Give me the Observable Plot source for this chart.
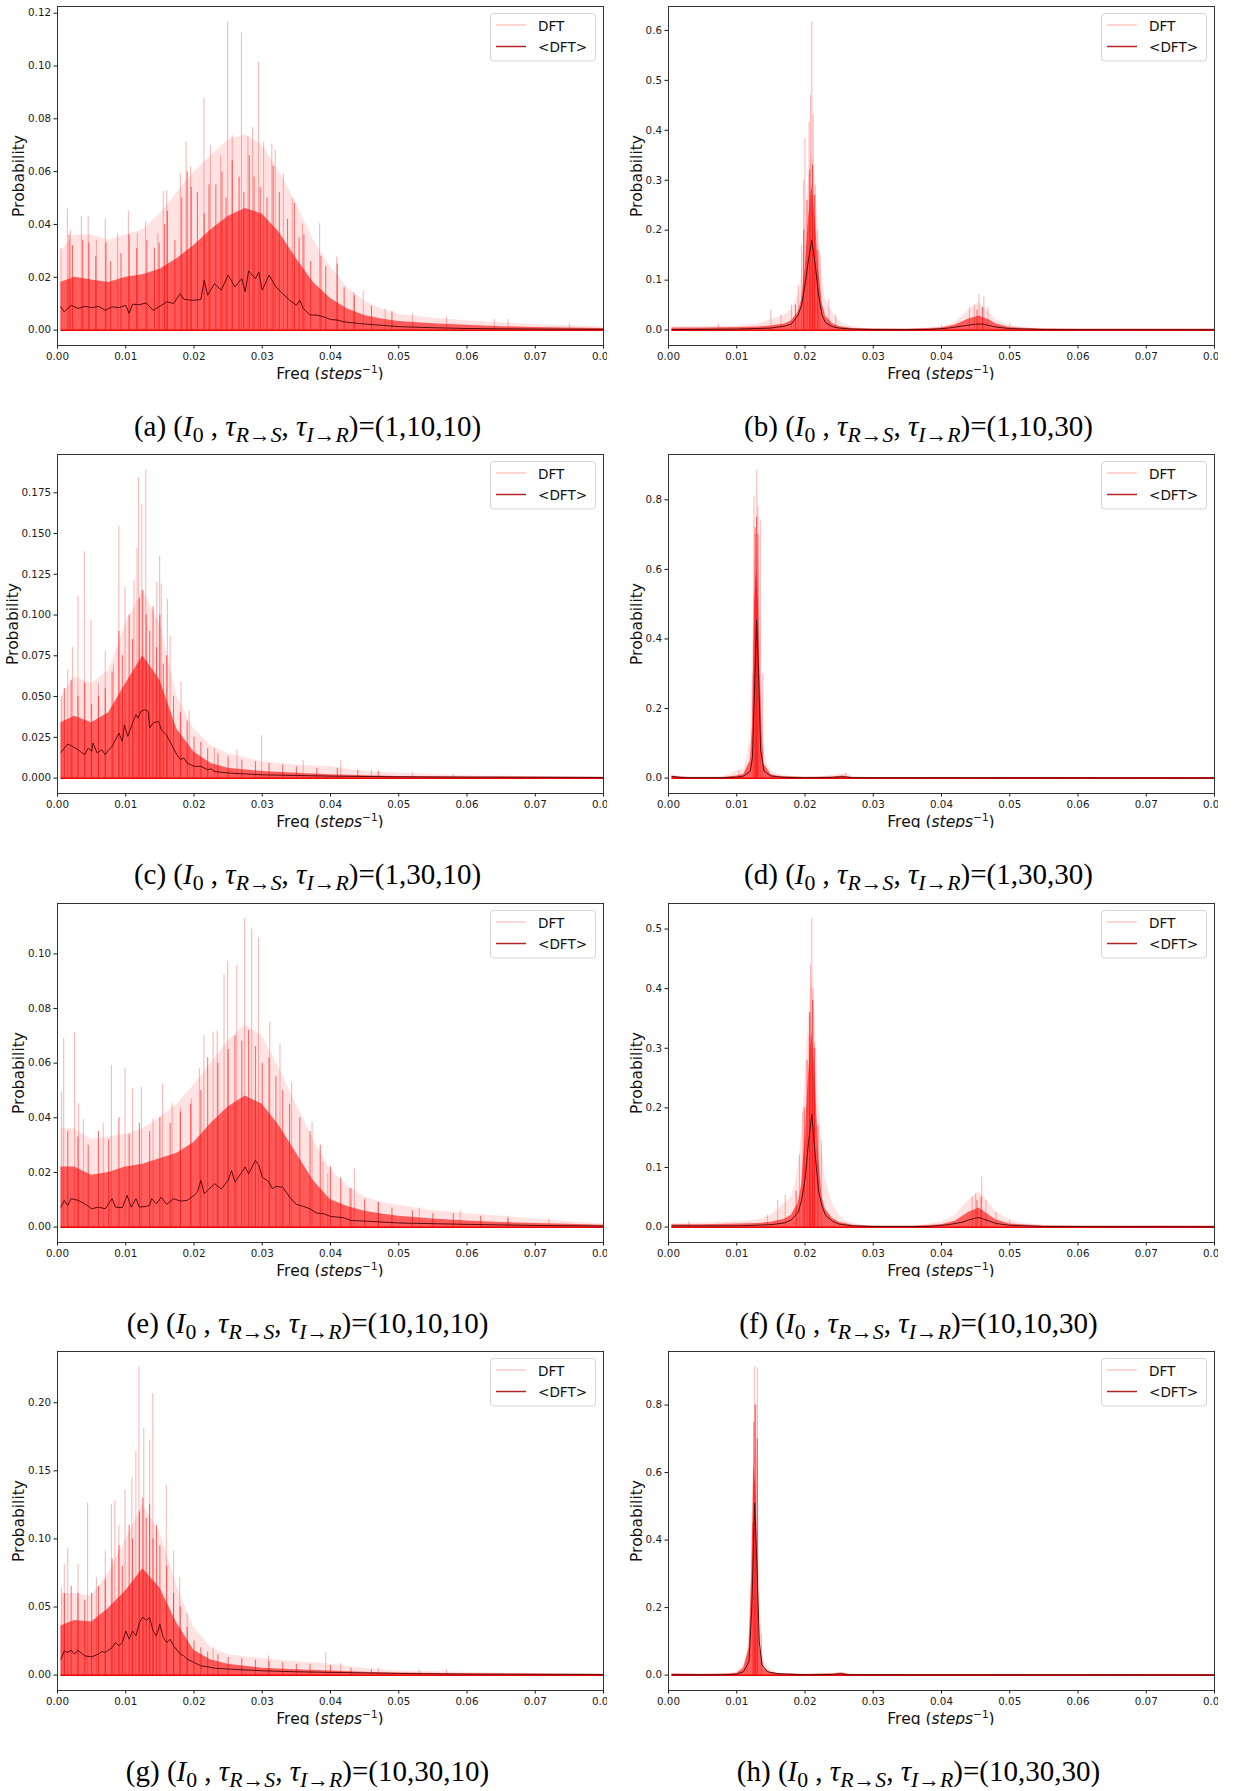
<!DOCTYPE html>
<html><head><meta charset="utf-8">
<script src="https://cdn.jsdelivr.net/npm/d3@7"></script>
<script src="https://cdn.jsdelivr.net/npm/@observablehq/plot@0.6"></script>
<style>
body{margin:0;background:#fff;}
#page{position:relative;width:1243px;height:1791px;overflow:hidden;background:#fff;}
.cell{position:absolute;width:607px;height:380px;overflow:hidden;}
.cap{position:absolute;width:607px;height:36px;line-height:36px;text-align:center;font-family:"Liberation Serif","Times New Roman",serif;font-size:29px;color:#000;white-space:nowrap;}
.cap sub{font-size:0.75em;vertical-align:-0.27em;line-height:0;}
</style></head><body><div id="page"></div>
<script>
// ---------- tick values ----------
const xTicks = [0, 0.01, 0.02, 0.03, 0.04, 0.05, 0.06, 0.07, 0.08];
const aYTicks = [0, 0.02, 0.04, 0.06, 0.08, 0.10, 0.12];
const bYTicks = [0, 0.1, 0.2, 0.3, 0.4, 0.5, 0.6];
const cYTicks = [0, 0.025, 0.05, 0.075, 0.1, 0.125, 0.15, 0.175];
const dYTicks = [0, 0.2, 0.4, 0.6, 0.8];
const eYTicks = [0, 0.02, 0.04, 0.06, 0.08, 0.10];
const fYTicks = [0, 0.1, 0.2, 0.3, 0.4, 0.5];
const gYTicks = [0, 0.05, 0.10, 0.15, 0.20];
const hYTicks = [0, 0.2, 0.4, 0.6, 0.8];

// ---------- captions / legend ----------
const capLetters = ["a", "b", "c", "d", "e", "f", "g", "h"];
const capValues = ["1,10,10", "1,10,30", "1,30,10", "1,30,30", "10,10,10", "10,10,30", "10,30,10", "10,30,30"];
const legendLabels = ["DFT", "<DFT>"];

// ---------- panel (a) ----------
const aHaze = [[0.0005,0.030],[0.0025,0.036],[0.005,0.036],[0.0075,0.034],[0.01,0.036],[0.0125,0.038],[0.015,0.044],[0.0175,0.052],[0.02,0.060],[0.0225,0.066],[0.025,0.072],[0.0275,0.074],[0.03,0.070],[0.0325,0.060],[0.035,0.048],[0.0375,0.034],[0.04,0.024],[0.0425,0.016],[0.045,0.011],[0.0475,0.008],[0.05,0.006],[0.055,0.0045],[0.06,0.0035],[0.065,0.0028],[0.07,0.002],[0.075,0.0016],[0.08,0.0012]];
const aCore = [[0.0005,0.018],[0.0025,0.020],[0.005,0.019],[0.0075,0.018],[0.01,0.020],[0.0125,0.021],[0.015,0.023],[0.0175,0.027],[0.02,0.032],[0.0225,0.038],[0.025,0.043],[0.0275,0.046],[0.03,0.044],[0.0325,0.037],[0.035,0.027],[0.0375,0.018],[0.04,0.012],[0.0425,0.008],[0.045,0.0055],[0.0475,0.0042],[0.05,0.0033],[0.055,0.0024],[0.06,0.0018],[0.065,0.0013],[0.07,0.001],[0.075,0.0008],[0.08,0.0006]];
const aMean = [[0.0005,0.0088],[0.001,0.0069],[0.002,0.0094],[0.003,0.0082],[0.004,0.0090],[0.005,0.0085],[0.006,0.0090],[0.007,0.0075],[0.008,0.0088],[0.009,0.0085],[0.010,0.0094],[0.0105,0.0063],[0.011,0.0098],[0.012,0.0096],[0.013,0.0103],[0.014,0.0075],[0.015,0.0090],[0.016,0.0107],[0.017,0.0101],[0.018,0.0138],[0.0185,0.0117],[0.019,0.0115],[0.020,0.0113],[0.021,0.0116],[0.0215,0.0189],[0.022,0.0132],[0.023,0.0176],[0.024,0.0151],[0.025,0.0208],[0.026,0.0164],[0.027,0.0195],[0.0275,0.0145],[0.028,0.0224],[0.029,0.0195],[0.0295,0.0220],[0.030,0.0151],[0.031,0.0208],[0.032,0.0164],[0.033,0.0138],[0.034,0.0113],[0.035,0.0094],[0.0355,0.0113],[0.036,0.0082],[0.037,0.0057],[0.038,0.0057],[0.039,0.0050],[0.040,0.0040],[0.041,0.0038],[0.042,0.0031],[0.043,0.0028],[0.045,0.0023],[0.047,0.0019],[0.050,0.0013],[0.055,0.0009],[0.060,0.0006],[0.070,0.0004],[0.080,0.0003]];
const aSpikes = [[0.0005,0.0308],[0.00145,0.0459],[0.0019,0.0377],[0.0035,0.0431],[0.0045,0.0428],[0.0057,0.034],[0.007,0.0421],[0.0088,0.0365],[0.0104,0.0449],[0.0117,0.0365],[0.0129,0.0411],[0.0147,0.0365],[0.0155,0.0525],[0.016,0.0528],[0.018,0.059],[0.01884,0.0711],[0.0195,0.0619],[0.02145,0.0877],[0.0224,0.0698],[0.0239,0.066],[0.02493,0.1167],[0.0256,0.0736],[0.02696,0.1126],[0.0279,0.0732],[0.02858,0.0767],[0.02945,0.1013],[0.0302,0.071],[0.0314,0.0705],[0.0319,0.068],[0.0331,0.059],[0.0344,0.0497],[0.0359,0.0403],[0.0384,0.0403],[0.0409,0.0277],[0.0434,0.0141],[0.0448,0.0147],[0.048,0.008],[0.052,0.006],[0.057,0.005],[0.064,0.004],[0.066,0.004],[0.075,0.0025]];
const aMid = [[0.0017,0.036],[0.0022,0.032],[0.0037,0.034],[0.0046,0.033],[0.0056,0.028],[0.0071,0.033],[0.0078,0.026],[0.0093,0.029],[0.0105,0.036],[0.0116,0.031],[0.0131,0.034],[0.0142,0.031],[0.0149,0.033],[0.0157,0.040],[0.0161,0.045],[0.0172,0.034],[0.0182,0.050],[0.019,0.060],[0.0196,0.054],[0.0205,0.052],[0.0215,0.044],[0.0222,0.055],[0.0232,0.055],[0.0241,0.060],[0.0247,0.050],[0.0256,0.064],[0.0266,0.058],[0.0273,0.052],[0.0281,0.066],[0.0288,0.058],[0.0297,0.054],[0.0307,0.050],[0.0316,0.062],[0.0325,0.052],[0.0337,0.042],[0.0347,0.048],[0.0354,0.035],[0.0361,0.036],[0.0371,0.026],[0.0386,0.028],[0.0393,0.024],[0.041,0.025],[0.042,0.016],[0.0435,0.013],[0.046,0.009],[0.049,0.007]];

// ---------- panel (b) ----------
const bHaze = [[0.0005,0.006],[0.005,0.007],[0.01,0.008],[0.013,0.012],[0.015,0.02],[0.017,0.03],[0.018,0.04],[0.019,0.07],[0.0195,0.11],[0.02,0.2],[0.0205,0.3],[0.021,0.36],[0.0215,0.3],[0.022,0.2],[0.0225,0.11],[0.023,0.06],[0.024,0.035],[0.025,0.018],[0.026,0.01],[0.028,0.004],[0.03,0.002],[0.035,0.002],[0.04,0.006],[0.042,0.015],[0.044,0.04],[0.0455,0.055],[0.047,0.035],[0.048,0.02],[0.05,0.01],[0.052,0.005],[0.055,0.003],[0.06,0.002],[0.07,0.002],[0.08,0.002]];
const bCore = [[0.0005,0.004],[0.005,0.004],[0.01,0.005],[0.013,0.006],[0.015,0.008],[0.017,0.012],[0.018,0.018],[0.019,0.035],[0.0195,0.06],[0.02,0.12],[0.0205,0.22],[0.021,0.29],[0.0215,0.22],[0.022,0.12],[0.0225,0.055],[0.023,0.028],[0.024,0.013],[0.025,0.007],[0.027,0.003],[0.03,0.002],[0.035,0.0015],[0.04,0.004],[0.042,0.01],[0.044,0.022],[0.0455,0.028],[0.047,0.02],[0.048,0.012],[0.05,0.005],[0.055,0.002],[0.06,0.0015],[0.08,0.0015]];
const bMean = [[0.0005,0.001],[0.01,0.002],[0.015,0.004],[0.017,0.008],[0.018,0.012],[0.019,0.03],[0.0195,0.05],[0.020,0.09],[0.0205,0.14],[0.021,0.18],[0.0215,0.13],[0.022,0.07],[0.0225,0.03],[0.023,0.015],[0.024,0.007],[0.025,0.004],[0.027,0.002],[0.030,0.001],[0.038,0.001],[0.041,0.004],[0.043,0.008],[0.045,0.012],[0.046,0.012],[0.047,0.009],[0.048,0.006],[0.050,0.003],[0.055,0.001],[0.080,0.0005]];
const bSpikes = [[0.021,0.617],[0.0208,0.47],[0.0212,0.43],[0.0206,0.416],[0.02,0.383],[0.0198,0.3],[0.0215,0.29],[0.0218,0.2],[0.0222,0.15],[0.0195,0.17],[0.019,0.09],[0.015,0.04],[0.0073,0.012],[0.0235,0.06],[0.0245,0.03],[0.0455,0.071],[0.0462,0.066],[0.0448,0.05],[0.0441,0.045],[0.0468,0.045],[0.05,0.014],[0.04,0.01],[0.0165,0.03],[0.018,0.05]];
const bMid = [[0.0198,0.2],[0.0203,0.26],[0.0207,0.32],[0.0211,0.33],[0.0214,0.27],[0.0219,0.16],[0.0186,0.05],[0.0452,0.04],[0.046,0.045]];

// ---------- panel (c) ----------
const cHaze = [[0.0005,0.05],[0.0025,0.062],[0.005,0.058],[0.0075,0.066],[0.01,0.095],[0.0125,0.115],[0.015,0.095],[0.0175,0.05],[0.02,0.03],[0.0225,0.02],[0.025,0.015],[0.03,0.01],[0.035,0.008],[0.04,0.007],[0.045,0.004],[0.05,0.003],[0.06,0.0015],[0.07,0.001],[0.08,0.0006]];
const cCore = [[0.0005,0.034],[0.0025,0.038],[0.005,0.034],[0.0075,0.040],[0.01,0.058],[0.0125,0.075],[0.015,0.060],[0.0175,0.030],[0.02,0.016],[0.0225,0.009],[0.025,0.006],[0.03,0.004],[0.035,0.003],[0.04,0.002],[0.045,0.0015],[0.05,0.001],[0.06,0.0007],[0.08,0.0004]];
const cMean = [[0.0005,0.0158],[0.0015,0.0209],[0.002,0.0199],[0.003,0.0174],[0.004,0.0143],[0.0045,0.0184],[0.005,0.0164],[0.0052,0.0215],[0.0058,0.0154],[0.0065,0.0174],[0.007,0.0143],[0.0075,0.0174],[0.008,0.0194],[0.009,0.0276],[0.0095,0.0225],[0.0098,0.0327],[0.0103,0.0256],[0.011,0.0338],[0.0115,0.0389],[0.0118,0.0368],[0.0122,0.0409],[0.0128,0.042],[0.0133,0.0409],[0.0135,0.0307],[0.014,0.0338],[0.0148,0.0348],[0.0152,0.0297],[0.016,0.0262],[0.0165,0.0221],[0.0175,0.0143],[0.018,0.0113],[0.0185,0.0123],[0.019,0.0092],[0.020,0.0072],[0.021,0.0072],[0.022,0.0051],[0.0225,0.0057],[0.023,0.0041],[0.025,0.0031],[0.030,0.0020],[0.035,0.0016],[0.040,0.0012],[0.050,0.0008],[0.060,0.0006],[0.080,0.0004]];
const cSpikes = [[0.0006,0.050],[0.0015,0.0665],[0.0022,0.080],[0.003,0.1115],[0.00394,0.139],[0.0049,0.097],[0.006,0.058],[0.007,0.0778],[0.0082,0.0696],[0.00899,0.1545],[0.0099,0.117],[0.0112,0.121],[0.01165,0.141],[0.01188,0.184],[0.01235,0.168],[0.01293,0.189],[0.01455,0.12],[0.01496,0.136],[0.0152,0.119],[0.0161,0.1095],[0.0165,0.087],[0.0181,0.059],[0.0193,0.041],[0.023,0.018],[0.0263,0.0174],[0.0299,0.026],[0.036,0.0106],[0.0415,0.0106],[0.046,0.005],[0.052,0.003],[0.058,0.002]];
const cMid = [[0.001,0.055],[0.002,0.06],[0.003,0.05],[0.004,0.058],[0.005,0.045],[0.006,0.05],[0.007,0.055],[0.008,0.065],[0.009,0.09],[0.0095,0.075],[0.0105,0.1],[0.011,0.085],[0.012,0.11],[0.0125,0.115],[0.013,0.1],[0.0135,0.09],[0.014,0.105],[0.0145,0.08],[0.015,0.1],[0.0155,0.07],[0.016,0.075],[0.017,0.05],[0.018,0.04],[0.019,0.035],[0.02,0.025],[0.021,0.022],[0.022,0.018],[0.0235,0.015],[0.025,0.013],[0.027,0.011],[0.029,0.01],[0.031,0.009],[0.033,0.008],[0.035,0.007],[0.038,0.006],[0.041,0.006],[0.044,0.005],[0.047,0.004]];

// ---------- panel (d) ----------
const dHaze = [[0.0005,0.008],[0.003,0.003],[0.008,0.004],[0.01,0.02],[0.011,0.025],[0.0115,0.06],[0.012,0.12],[0.0123,0.35],[0.0126,0.62],[0.0129,0.66],[0.0133,0.6],[0.0136,0.4],[0.0138,0.2],[0.014,0.08],[0.0145,0.04],[0.015,0.02],[0.016,0.01],[0.018,0.005],[0.022,0.003],[0.025,0.01],[0.026,0.014],[0.027,0.004],[0.03,0.002],[0.08,0.002]];
const dCore = [[0.0005,0.005],[0.003,0.002],[0.008,0.002],[0.01,0.006],[0.011,0.01],[0.012,0.05],[0.0123,0.15],[0.0126,0.5],[0.0129,0.6],[0.0132,0.5],[0.0135,0.25],[0.0138,0.1],[0.014,0.04],[0.015,0.01],[0.016,0.005],[0.02,0.002],[0.024,0.003],[0.0255,0.006],[0.027,0.002],[0.03,0.0015],[0.08,0.0015]];
const dMean = [[0.0005,0.005],[0.002,0.001],[0.008,0.001],[0.01,0.003],[0.011,0.006],[0.012,0.02],[0.0123,0.06],[0.0126,0.25],[0.0129,0.455],[0.0132,0.3],[0.0135,0.08],[0.014,0.02],[0.015,0.006],[0.017,0.002],[0.02,0.001],[0.024,0.002],[0.0255,0.004],[0.027,0.001],[0.08,0.0003]];
const dSpikes = [[0.01293,0.886],[0.01252,0.811],[0.01345,0.739],[0.0131,0.78],[0.0127,0.7],[0.0124,0.3],[0.0138,0.3],[0.0103,0.022],[0.026,0.014]];
const dMid = [[0.0127,0.72],[0.0129,0.75],[0.0131,0.7]];

// ---------- panel (e) ----------
const eHaze = [[0.0005,0.036],[0.0025,0.036],[0.005,0.032],[0.0075,0.033],[0.01,0.034],[0.0125,0.036],[0.015,0.04],[0.0175,0.045],[0.02,0.052],[0.0225,0.06],[0.025,0.068],[0.0275,0.074],[0.03,0.07],[0.0325,0.058],[0.035,0.045],[0.0375,0.032],[0.04,0.021],[0.0425,0.015],[0.045,0.011],[0.0475,0.009],[0.05,0.008],[0.055,0.006],[0.06,0.005],[0.065,0.004],[0.07,0.003],[0.075,0.002],[0.08,0.0012]];
const eCore = [[0.0005,0.022],[0.0025,0.022],[0.005,0.019],[0.0075,0.020],[0.01,0.022],[0.0125,0.023],[0.015,0.025],[0.0175,0.027],[0.02,0.031],[0.0225,0.038],[0.025,0.044],[0.0275,0.048],[0.03,0.045],[0.0325,0.037],[0.035,0.027],[0.0375,0.017],[0.04,0.010],[0.0425,0.0075],[0.045,0.0058],[0.0475,0.0048],[0.05,0.004],[0.055,0.003],[0.06,0.0022],[0.065,0.0017],[0.07,0.0013],[0.075,0.001],[0.08,0.0007]];
const eMean = [[0.0005,0.0073],[0.001,0.0098],[0.0015,0.0079],[0.002,0.0104],[0.003,0.0098],[0.004,0.0085],[0.005,0.0067],[0.006,0.0073],[0.007,0.0067],[0.008,0.0104],[0.0085,0.0073],[0.0095,0.0071],[0.0102,0.0116],[0.0108,0.0073],[0.0115,0.0104],[0.012,0.0073],[0.013,0.0076],[0.0135,0.0079],[0.0138,0.0104],[0.0145,0.0085],[0.0152,0.011],[0.016,0.0083],[0.017,0.0104],[0.018,0.0095],[0.019,0.0098],[0.020,0.0116],[0.0205,0.0128],[0.021,0.0171],[0.0215,0.0122],[0.022,0.0134],[0.023,0.0159],[0.024,0.014],[0.025,0.0171],[0.0255,0.0207],[0.026,0.0165],[0.027,0.0201],[0.0275,0.022],[0.028,0.0195],[0.029,0.0244],[0.0295,0.0226],[0.030,0.0183],[0.031,0.0165],[0.0315,0.014],[0.032,0.0149],[0.033,0.0146],[0.034,0.011],[0.035,0.0083],[0.036,0.0076],[0.037,0.0067],[0.038,0.0051],[0.039,0.0049],[0.040,0.0039],[0.042,0.0034],[0.043,0.0024],[0.045,0.0022],[0.050,0.0015],[0.060,0.001],[0.070,0.0006],[0.080,0.0004]];
const eSpikes = [[0.0006,0.0494],[0.0009,0.0689],[0.0025,0.0713],[0.0031,0.0451],[0.0038,0.0393],[0.0067,0.0378],[0.0079,0.0591],[0.0099,0.058],[0.011,0.0506],[0.0123,0.0512],[0.014,0.0396],[0.0154,0.0524],[0.0168,0.0451],[0.018,0.0439],[0.0196,0.047],[0.0208,0.058],[0.02145,0.0701],[0.0228,0.0713],[0.0234,0.0717],[0.0244,0.0924],[0.02493,0.0973],[0.02626,0.0957],[0.02742,0.1128],[0.02846,0.1091],[0.02945,0.1059],[0.0311,0.075],[0.0326,0.067],[0.0343,0.053],[0.0373,0.0384],[0.0389,0.0238],[0.0396,0.0195],[0.0428,0.014],[0.0435,0.0213],[0.047,0.009],[0.053,0.007],[0.059,0.006],[0.066,0.004],[0.072,0.003]];
const eMid = [[0.0015,0.035],[0.003,0.033],[0.0045,0.03],[0.006,0.035],[0.0075,0.032],[0.009,0.04],[0.0105,0.034],[0.012,0.038],[0.0135,0.035],[0.015,0.04],[0.0165,0.038],[0.018,0.042],[0.0195,0.045],[0.021,0.05],[0.022,0.062],[0.0235,0.06],[0.025,0.065],[0.026,0.07],[0.027,0.068],[0.028,0.072],[0.029,0.066],[0.03,0.06],[0.031,0.062],[0.032,0.055],[0.033,0.05],[0.034,0.045],[0.0355,0.04],[0.037,0.035],[0.0385,0.03],[0.04,0.022],[0.0415,0.018],[0.043,0.014],[0.045,0.01],[0.047,0.009],[0.049,0.007],[0.052,0.006],[0.055,0.005],[0.058,0.005],[0.062,0.004],[0.066,0.003]];

// ---------- panel (f) ----------
const fHaze = [[0.0005,0.006],[0.005,0.007],[0.01,0.009],[0.013,0.012],[0.015,0.02],[0.016,0.03],[0.017,0.04],[0.018,0.05],[0.0185,0.07],[0.019,0.1],[0.0195,0.16],[0.02,0.25],[0.0205,0.35],[0.021,0.42],[0.0215,0.35],[0.022,0.22],[0.0225,0.13],[0.023,0.08],[0.024,0.04],[0.025,0.02],[0.026,0.01],[0.028,0.004],[0.03,0.002],[0.036,0.002],[0.04,0.008],[0.042,0.02],[0.044,0.045],[0.0455,0.06],[0.047,0.04],[0.048,0.025],[0.05,0.012],[0.052,0.006],[0.055,0.003],[0.06,0.002],[0.08,0.002]];
const fCore = [[0.0005,0.004],[0.005,0.004],[0.01,0.005],[0.013,0.006],[0.015,0.008],[0.017,0.013],[0.018,0.02],[0.019,0.04],[0.0195,0.07],[0.02,0.15],[0.0205,0.25],[0.021,0.33],[0.0215,0.25],[0.022,0.12],[0.0225,0.05],[0.023,0.03],[0.024,0.015],[0.025,0.008],[0.027,0.003],[0.03,0.0015],[0.036,0.0015],[0.04,0.004],[0.042,0.01],[0.044,0.025],[0.0455,0.032],[0.047,0.02],[0.048,0.012],[0.05,0.005],[0.055,0.002],[0.06,0.0015],[0.08,0.0015]];
const fMean = [[0.0005,0.002],[0.01,0.002],[0.015,0.004],[0.017,0.007],[0.018,0.012],[0.019,0.025],[0.0195,0.045],[0.020,0.08],[0.0205,0.14],[0.021,0.189],[0.0215,0.12],[0.022,0.06],[0.0225,0.035],[0.023,0.02],[0.024,0.01],[0.025,0.005],[0.027,0.002],[0.030,0.001],[0.038,0.001],[0.041,0.004],[0.043,0.008],[0.044,0.012],[0.045,0.015],[0.0455,0.016],[0.046,0.014],[0.047,0.01],[0.048,0.006],[0.050,0.003],[0.055,0.001],[0.080,0.0005]];
const fSpikes = [[0.021,0.517],[0.0208,0.44],[0.02067,0.355],[0.0206,0.321],[0.02137,0.31],[0.0212,0.4],[0.0224,0.145],[0.0197,0.193],[0.0192,0.12],[0.0171,0.053],[0.016,0.045],[0.0145,0.02],[0.003,0.01],[0.0459,0.084],[0.045,0.055],[0.0445,0.05],[0.0465,0.045],[0.048,0.025],[0.05,0.012]];
const fMid = [[0.0199,0.2],[0.0203,0.28],[0.0207,0.36],[0.0211,0.38],[0.0214,0.3],[0.0219,0.17],[0.0187,0.06],[0.0452,0.045],[0.0458,0.05]];

// ---------- panel (g) ----------
const gHaze = [[0.0005,0.06],[0.0025,0.06],[0.005,0.058],[0.0075,0.075],[0.01,0.1],[0.0125,0.125],[0.015,0.105],[0.0175,0.065],[0.02,0.035],[0.0225,0.02],[0.025,0.015],[0.03,0.012],[0.035,0.01],[0.04,0.008],[0.045,0.005],[0.05,0.003],[0.06,0.002],[0.07,0.001],[0.08,0.0006]];
const gCore = [[0.0005,0.036],[0.0025,0.040],[0.005,0.039],[0.0075,0.049],[0.01,0.062],[0.0125,0.078],[0.015,0.064],[0.0175,0.038],[0.02,0.018],[0.0225,0.011],[0.025,0.008],[0.03,0.005],[0.035,0.004],[0.04,0.003],[0.045,0.002],[0.05,0.0015],[0.06,0.001],[0.08,0.0005]];
const gMean = [[0.0005,0.0117],[0.001,0.0178],[0.0015,0.0166],[0.002,0.0183],[0.0025,0.0154],[0.003,0.0183],[0.004,0.0141],[0.005,0.0134],[0.006,0.0154],[0.0065,0.0173],[0.007,0.0166],[0.008,0.0202],[0.0085,0.0239],[0.009,0.0215],[0.0095,0.0239],[0.010,0.0324],[0.0105,0.0263],[0.011,0.0324],[0.0115,0.0288],[0.012,0.0385],[0.0125,0.0427],[0.013,0.0402],[0.0135,0.0422],[0.014,0.0324],[0.0145,0.0288],[0.015,0.0373],[0.0155,0.0276],[0.016,0.0239],[0.0165,0.0263],[0.017,0.0215],[0.018,0.0154],[0.0185,0.0141],[0.019,0.0117],[0.020,0.0093],[0.021,0.0068],[0.022,0.0061],[0.023,0.0051],[0.025,0.0044],[0.030,0.0032],[0.035,0.0024],[0.040,0.0020],[0.050,0.0012],[0.060,0.0007],[0.080,0.0005]];
const gSpikes = [[0.0006,0.064],[0.001,0.0812],[0.0015,0.0934],[0.003,0.0812],[0.0044,0.1263],[0.0057,0.0715],[0.007,0.091],[0.0079,0.125],[0.0084,0.128],[0.009,0.11],[0.0099,0.136],[0.0109,0.145],[0.01148,0.164],[0.01194,0.2263],[0.01264,0.181],[0.0135,0.1727],[0.01397,0.2068],[0.01594,0.139],[0.017,0.091],[0.0179,0.0715],[0.019,0.0446],[0.0228,0.0202],[0.0309,0.0141],[0.0393,0.0166],[0.0415,0.0085],[0.047,0.005],[0.053,0.004],[0.057,0.004]];
const gMid = [[0.001,0.06],[0.002,0.065],[0.003,0.06],[0.004,0.055],[0.005,0.06],[0.006,0.065],[0.007,0.07],[0.008,0.085],[0.009,0.095],[0.0095,0.08],[0.0105,0.11],[0.011,0.1],[0.012,0.12],[0.0125,0.13],[0.013,0.115],[0.0135,0.125],[0.014,0.1],[0.0145,0.11],[0.015,0.095],[0.016,0.08],[0.017,0.06],[0.018,0.05],[0.019,0.035],[0.02,0.025],[0.021,0.02],[0.022,0.017],[0.0235,0.015],[0.025,0.013],[0.027,0.012],[0.029,0.011],[0.031,0.01],[0.033,0.009],[0.035,0.008],[0.037,0.008],[0.04,0.007],[0.043,0.005],[0.046,0.004]];

// ---------- panel (h) ----------
const hHaze = [[0.0005,0.004],[0.005,0.003],[0.009,0.005],[0.01,0.01],[0.011,0.03],[0.0115,0.06],[0.0119,0.15],[0.0122,0.4],[0.0124,0.62],[0.0128,0.68],[0.0131,0.6],[0.0133,0.4],[0.0135,0.2],[0.0138,0.08],[0.014,0.04],[0.015,0.015],[0.016,0.006],[0.02,0.003],[0.0245,0.006],[0.0255,0.008],[0.027,0.003],[0.03,0.002],[0.08,0.002]];
const hCore = [[0.0005,0.003],[0.005,0.002],[0.009,0.003],[0.01,0.005],[0.011,0.02],[0.0118,0.08],[0.0122,0.3],[0.0125,0.62],[0.0128,0.55],[0.0131,0.3],[0.0134,0.08],[0.014,0.02],[0.015,0.007],[0.017,0.003],[0.02,0.0015],[0.024,0.003],[0.0253,0.006],[0.0265,0.002],[0.03,0.0015],[0.08,0.0015]];
const hMean = [[0.0005,0.001],[0.008,0.001],[0.01,0.003],[0.011,0.01],[0.0118,0.04],[0.0122,0.2],[0.01263,0.51],[0.013,0.3],[0.0133,0.1],[0.0137,0.03],[0.0145,0.01],[0.016,0.004],[0.02,0.001],[0.024,0.002],[0.0253,0.004],[0.0265,0.001],[0.08,0.0003]];
const hSpikes = [[0.01263,0.913],[0.01304,0.91],[0.0128,0.8],[0.0123,0.45],[0.0136,0.12],[0.0115,0.05]];
const hMid = [[0.0125,0.75],[0.0127,0.8],[0.013,0.7]];

// ---------- assemble ----------
const panels = [
  {haze: aHaze, core: aCore, mean: aMean, spikes: aSpikes, mid: aMid, ticks: aYTicks, fmt: ".2f"},
  {haze: bHaze, core: bCore, mean: bMean, spikes: bSpikes, mid: bMid, ticks: bYTicks, fmt: ".1f"},
  {haze: cHaze, core: cCore, mean: cMean, spikes: cSpikes, mid: cMid, ticks: cYTicks, fmt: ".3f"},
  {haze: dHaze, core: dCore, mean: dMean, spikes: dSpikes, mid: dMid, ticks: dYTicks, fmt: ".1f"},
  {haze: eHaze, core: eCore, mean: eMean, spikes: eSpikes, mid: eMid, ticks: eYTicks, fmt: ".2f"},
  {haze: fHaze, core: fCore, mean: fMean, spikes: fSpikes, mid: fMid, ticks: fYTicks, fmt: ".1f"},
  {haze: gHaze, core: gCore, mean: gMean, spikes: gSpikes, mid: gMid, ticks: gYTicks, fmt: ".2f"},
  {haze: hHaze, core: hCore, mean: hMean, spikes: hSpikes, mid: hMid, ticks: hYTicks, fmt: ".1f"}
];

const page = document.getElementById("page");
const rowTops = [0, 448, 897, 1345];
const colLefts = [0, 611];
const ylabelX = [18.5, 26, 12.5, 26, 18.5, 26, 18.5, 26];
const FX = d => d[0], FY = d => d[1];
const FONT = "'DejaVu Sans', sans-serif";

panels.forEach((p, i) => {
  const row = Math.floor(i / 2), col = i % 2;
  const M = d3.max([...p.haze, ...p.core, ...p.mean, ...p.spikes, ...p.mid], FY);
  const chart = Plot.plot({
    width: 607, height: 380,
    marginLeft: 57, marginRight: 4, marginTop: 6, marginBottom: 35,
    style: {fontFamily: FONT, fontSize: "10.3px", color: "#1a1a1a", background: "white"},
    x: {domain: [0, 0.08], ticks: xTicks, tickFormat: d3.format(".2f"), label: null, tickSize: 3.5, tickPadding: 4},
    y: {domain: [-0.05 * M, 1.05 * M], ticks: p.ticks, tickFormat: d3.format(p.fmt), label: null, tickSize: 3.5, tickPadding: 3},
    marks: [
      Plot.areaY(p.haze, {x: FX, y: FY, fill: "#ff0000", fillOpacity: 0.11, clip: true}),
      Plot.ruleX(p.spikes, {x: FX, y1: 0, y2: FY, stroke: "#ff1010", strokeOpacity: 0.3, strokeWidth: 1.1, clip: true}),
      Plot.areaY(p.core, {x: FX, y: FY, fill: "#ff0000", fillOpacity: 0.6, clip: true}),
      Plot.ruleX(p.mid, {x: FX, y1: 0, y2: FY, stroke: "#ff0000", strokeOpacity: 0.55, strokeWidth: 1.1, clip: true}),
      Plot.ruleY([0], {x1: 0.0005, x2: 0.08, stroke: "#ee0000", strokeWidth: 1.6}),
      Plot.lineY(p.mean, {x: FX, y: FY, stroke: "#5a0c0c", strokeWidth: 1, clip: true}),
      Plot.frame({stroke: "#333", strokeWidth: 1})
    ]
  });
  const svg = d3.select(chart);
  // y label
  svg.append("text")
    .attr("transform", `translate(${ylabelX[i]},176) rotate(-90)`)
    .attr("text-anchor", "middle").attr("dominant-baseline", "central")
    .attr("font-family", FONT).attr("font-size", "15.5px").attr("fill", "#111")
    .text("Probability");
  // x label: Freq (steps^-1)
  const xl = svg.append("text")
    .attr("x", 330).attr("y", 378.5).attr("text-anchor", "middle")
    .attr("font-family", FONT).attr("font-size", "15.5px").attr("fill", "#111");
  xl.append("tspan").text("Freq (");
  xl.append("tspan").attr("font-style", "italic").text("steps");
  xl.append("tspan").attr("font-size", "10.5px").attr("dy", "-6").text("\u22121");
  xl.append("tspan").attr("dy", "6").text(")");
  // legend
  const lg = svg.append("g").attr("text-anchor", "start");
  lg.append("rect").attr("x", 490.5).attr("y", 13.5).attr("width", 105).attr("height", 47.5)
    .attr("rx", 3).attr("fill", "white").attr("fill-opacity", 0.85).attr("stroke", "#d5d5d5").attr("stroke-width", 1);
  lg.append("line").attr("x1", 496).attr("x2", 526).attr("y1", 25).attr("y2", 25)
    .attr("stroke", "#ff0000").attr("stroke-opacity", 0.22).attr("stroke-width", 1.5);
  lg.append("line").attr("x1", 496).attr("x2", 526).attr("y1", 46.5).attr("y2", 46.5)
    .attr("stroke", "#b52424").attr("stroke-width", 1.5);
  lg.append("text").attr("x", 538).attr("y", 30.5).attr("text-anchor", "start").attr("font-size", "13.6px").attr("fill", "#111")
    .attr("font-family", FONT).text(legendLabels[0]);
  lg.append("text").attr("x", 538).attr("y", 51.5).attr("text-anchor", "start").attr("font-size", "13.6px").attr("fill", "#111")
    .attr("font-family", FONT).text(legendLabels[1]);

  const cell = document.createElement("div");
  cell.className = "cell";
  cell.style.left = colLefts[col] + "px";
  cell.style.top = rowTops[row] + "px";
  if (i === 2) cell.style.clipPath = "inset(0 0 0 6px)";
  cell.appendChild(chart);
  page.appendChild(cell);

  const cap = document.createElement("div");
  cap.className = "cap";
  cap.style.left = (colLefts[col] + 4) + "px";
  cap.style.top = (rowTops[row] + 408) + "px";
  cap.innerHTML = `(${capLetters[i]}) (<i>I</i><sub>0</sub> , <i>\u03c4</i><sub><i>R</i>\u2192<i>S</i></sub>, <i>\u03c4</i><sub><i>I</i>\u2192<i>R</i></sub>)=(${capValues[i]})`;
  page.appendChild(cap);
});
</script></body></html>
